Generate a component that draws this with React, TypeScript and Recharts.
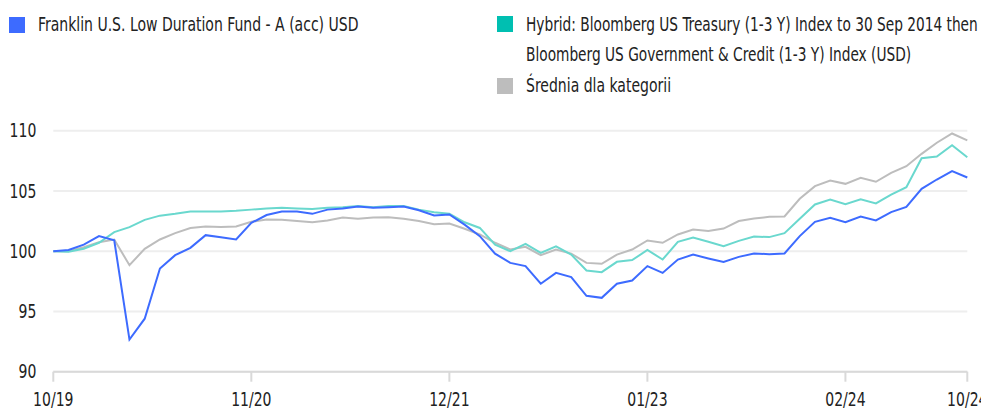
import React from 'react';
import { LineChart, Line, XAxis, YAxis, CartesianGrid } from 'recharts';

// ─── data ─────────────────────────────────────────────────────────────────────

const FONT = '"DejaVu Sans Condensed", "DejaVu Sans", sans-serif';
const SQUEEZE = 0.82; // reference face is narrower than anything installed

// monthly points, 10/2019 .. 10/2024
const months: string[] = [];
for (let i = 0; i <= 60; i++) {
  const m = ((9 + i) % 12) + 1;
  const y = 19 + Math.floor((9 + i) / 12);
  months.push(`${String(m).padStart(2, '0')}/${y}`);
}

const xTicks = ['10/19', '11/20', '12/21', '01/23', '02/24', '10/24'];
const yTicks = [90, 95, 100, 105, 110];

const fund = [
  100, 100.1, 100.55, 101.25, 100.9, 92.67, 94.4, 98.56, 99.67, 100.28,
  101.33, 101.15, 100.97, 102.35, 103.0, 103.3, 103.3, 103.1, 103.45, 103.55,
  103.7, 103.6, 103.65, 103.7, 103.4, 102.96, 103.05, 102.2, 101.25, 99.8,
  99.03, 98.76, 97.3, 98.2, 97.85, 96.3, 96.13, 97.3, 97.57, 98.76,
  98.2, 99.31, 99.72, 99.4, 99.1, 99.53, 99.81, 99.75, 99.81, 101.25,
  102.44, 102.77, 102.4, 102.88, 102.55, 103.24, 103.68, 105.18, 105.95, 106.64,
  106.12,
];

const benchmark = [
  100, 99.95, 100.2, 100.7, 101.58, 102.0, 102.6, 102.95, 103.1, 103.3,
  103.3, 103.3, 103.35, 103.45, 103.55, 103.6, 103.55, 103.5, 103.6, 103.65,
  103.75, 103.65, 103.75, 103.75, 103.45, 103.24, 103.1, 102.4, 101.93, 100.55,
  100.0, 100.6, 99.86, 100.4, 99.72, 98.4, 98.26, 99.12, 99.26, 100.1,
  99.31, 100.78, 101.14, 100.78, 100.42, 100.86, 101.22, 101.17, 101.5, 102.69,
  103.88, 104.29, 103.9, 104.3, 103.96, 104.7, 105.31, 107.72, 107.86, 108.8,
  107.8,
];

const category = [
  100, 100.0, 100.33, 100.75, 100.97, 98.84, 100.2, 100.97, 101.5, 101.93,
  102.05, 102.0, 102.05, 102.44, 102.63, 102.6, 102.5, 102.4, 102.55, 102.8,
  102.7, 102.8, 102.82, 102.7, 102.5, 102.24, 102.3, 101.86, 101.39, 100.7,
  100.14, 100.36, 99.67, 100.14, 99.8, 99.03, 98.95, 99.72, 100.14, 100.89,
  100.7, 101.39, 101.8, 101.67, 101.88, 102.5, 102.71, 102.85, 102.88, 104.35,
  105.4, 105.87, 105.59, 106.09, 105.76, 106.5, 107.05, 108.08, 109.0, 109.77,
  109.19,
];

const data = months.map((m, i) => ({
  m,
  fund: fund[i],
  benchmark: benchmark[i],
  category: category[i],
}));

// ─── legend ───────────────────────────────────────────────────────────────────

function Swatch({ color, top, left }: { color: string; top: number; left: number }) {
  return (
    <div style={{ position: 'absolute', top, left, width: 16, height: 16, background: color }} />
  );
}

const legendText: React.CSSProperties = {
  position: 'absolute',
  fontFamily: FONT,
  fontSize: 19,
  lineHeight: '30px',
  color: '#222',
  whiteSpace: 'nowrap',
  transform: `scaleX(${SQUEEZE})`,
  transformOrigin: '0 0',
};

// ─── ticks ────────────────────────────────────────────────────────────────────

function XTick({ x, y, payload }: any) {
  return (
    <g transform={`translate(${x},${y})`}>
      <text textAnchor="middle" dy="0.71em" transform={`scale(${SQUEEZE},1)`}
        fontSize={19} fill="#222" fontFamily={FONT}>
        {payload.value}
      </text>
    </g>
  );
}

function YTick({ x, y, payload }: any) {
  return (
    <g transform={`translate(${x},${y})`}>
      <text textAnchor="end" dy="0.355em" transform={`scale(${SQUEEZE},1)`}
        fontSize={19} fill="#222" fontFamily={FONT}>
        {payload.value}
      </text>
    </g>
  );
}

// ─── App ──────────────────────────────────────────────────────────────────────

export default function App() {
  return (
    <div style={{ position: 'absolute', left: 0, top: 0, width: 981, height: 411, background: '#fff', overflow: 'hidden' }}>
      <Swatch color="#3d6bff" top={17} left={9} />
      <div style={{ ...legendText, top: 9, left: 38 }}>Franklin U.S. Low Duration Fund - A (acc) USD</div>

      <Swatch color="#00bfb1" top={16} left={497} />
      <div style={{ ...legendText, top: 9, left: 526, transform: 'scaleX(0.803)' }}>
        Hybrid: Bloomberg US Treasury (1-3 Y) Index to 30 Sep 2014 then
        <br />
        Bloomberg US Government &amp; Credit (1-3 Y) Index (USD)
      </div>

      <Swatch color="#bdbdbd" top={78} left={497} />
      <div style={{ ...legendText, top: 70, left: 526 }}>Średnia dla kategorii</div>

      <div style={{ position: 'absolute', left: 0, top: 0 }}>
        <LineChart
          width={981}
          height={411}
          data={data}
          margin={{ top: 130.7, right: 13.7, left: 0, bottom: 0 }}
        >
          <CartesianGrid vertical={false} stroke="#eeeeee" strokeWidth={2} />
          <XAxis
            dataKey="m"
            ticks={xTicks}
            interval={0}
            height={39.3}
            stroke="#d9d9d9"
            strokeWidth={2}
            tickSize={10}
            tickMargin={11}
            tick={<XTick />}
          />
          <YAxis
            domain={[90, 110]}
            ticks={yTicks}
            width={53.3}
            axisLine={false}
            tickLine={false}
            tickMargin={11}
            tick={<YTick />}
          />
          <Line dataKey="category" stroke="#bdbdbd" strokeWidth={2} dot={false} isAnimationActive={false} />
          <Line dataKey="benchmark" stroke="#6ad8ce" strokeWidth={2} dot={false} isAnimationActive={false} />
          <Line dataKey="fund" stroke="#3d6bff" strokeWidth={2} dot={false} isAnimationActive={false} />
        </LineChart>
      </div>
    </div>
  );
}
